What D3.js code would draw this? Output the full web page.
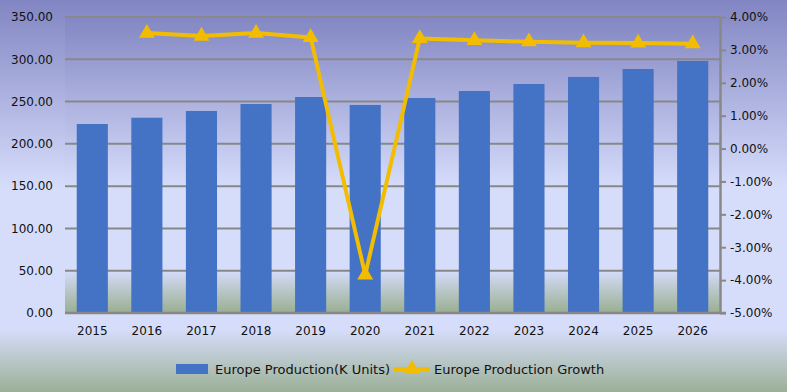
<!DOCTYPE html>
<html><head><meta charset="utf-8">
<script src="https://cdn.jsdelivr.net/npm/d3@7"></script>
<style>html,body{margin:0;padding:0;background:#fff;}svg{display:block;}</style>
</head><body>
<script>
const years = ["2015","2016","2017","2018","2019","2020","2021","2022","2023","2024","2025","2026"];
const production = [223.5, 230.9, 238.9, 247.1, 255.4, 246.0, 254.2, 262.5, 270.8, 279.1, 288.5, 298.0];
const growthYears = ["2016","2017","2018","2019","2020","2021","2022","2023","2024","2025","2026"];
const growth = [3.51, 3.42, 3.51, 3.38, -3.84, 3.35, 3.29, 3.25, 3.22, 3.21, 3.19];
const leftTicks = [0,50,100,150,200,250,300,350];
const rightTicks = [-5,-4,-3,-2,-1,0,1,2,3,4];
const seriesNames = ["Europe Production(K Units)", "Europe Production Growth"];

const W = 787, H = 392;
const m = {left: 65, right: 720, top: 17, bottom: 313};
const FONT = "'DejaVu Sans', Verdana, sans-serif";
const svg = d3.select("body").append("svg").attr("width", W).attr("height", H)
  .style("font-family", FONT);

const defs = svg.append("defs");
const bg = defs.append("linearGradient").attr("id","bg").attr("x1",0).attr("y1",0).attr("x2",0).attr("y2",1);
[[0,"#8185c2"],[0.48,"#d6ddfb"],[0.84,"#d6ddfb"],[1,"#9bb096"]].forEach(s=>bg.append("stop").attr("offset",s[0]).attr("stop-color",s[1]));
const pg = defs.append("linearGradient").attr("id","pg").attr("x1",0).attr("y1",0).attr("x2",0).attr("y2",1);
[[0,"#8387c3"],[0.58,"#d6ddfb"],[0.855,"#d6ddfb"],[1,"#99ae90"]].forEach(s=>pg.append("stop").attr("offset",s[0]).attr("stop-color",s[1]));

svg.append("rect").attr("width",W).attr("height",H).attr("fill","url(#bg)");
svg.append("rect").attr("x",m.left).attr("y",m.top).attr("width",m.right-m.left).attr("height",m.bottom-m.top).attr("fill","url(#pg)");

const x = d3.scaleBand().domain(years).range([m.left, m.right]).paddingInner(0.43).paddingOuter(0.215);
const y = d3.scaleLinear().domain([0,350]).range([m.bottom, m.top]);
const y2 = d3.scaleLinear().domain([-5,4]).range([m.bottom, m.top]);
const xc = d => x(d) + x.bandwidth()/2;

// gridlines
svg.append("g").selectAll("line").data(leftTicks.filter(t=>t>0)).join("line")
  .attr("x1", m.left).attr("x2", m.right).attr("y1", d=>y(d)).attr("y2", d=>y(d))
  .attr("stroke","#888888").attr("stroke-width",2);

// bars
svg.append("g").selectAll("rect").data(production).join("rect")
  .attr("x",(d,i)=>x(years[i])).attr("width",x.bandwidth())
  .attr("y",d=>y(d)).attr("height",d=>y(0)-y(d)).attr("fill","#4472c4");

// baseline
svg.append("line").attr("x1",m.left).attr("x2",m.right+6).attr("y1",m.bottom).attr("y2",m.bottom)
  .attr("stroke","#888888").attr("stroke-width",2.5);

// left axis labels
const la = svg.append("g").attr("transform",`translate(${m.left},0)`)
  .call(d3.axisLeft(y).tickValues(leftTicks).tickFormat(d=>d.toFixed(2)).tickSize(0).tickPadding(12));
la.select(".domain").remove();
la.selectAll("text").attr("font-size",12).attr("fill","#111").attr("font-family",FONT);

// right axis
const ra = svg.append("g").attr("transform",`translate(${m.right},0)`)
  .call(d3.axisRight(y2).tickValues(rightTicks).tickFormat(d=>d.toFixed(2)+"%").tickSize(6).tickPadding(4));
ra.select(".domain").attr("stroke","#888888").attr("stroke-width",2.5).attr("d",`M0.5,${m.top}V${m.bottom}`);
ra.selectAll(".tick line").attr("stroke","#888888").attr("stroke-width",2);
ra.selectAll("text").attr("font-size",12).attr("fill","#111").attr("font-family",FONT);

// x axis labels
const xa = svg.append("g").attr("transform",`translate(0,${m.bottom})`)
  .call(d3.axisBottom(x).tickSize(0).tickPadding(13));
xa.select(".domain").remove();
xa.selectAll("text").attr("font-size",12).attr("fill","#111").attr("font-family",FONT);

// growth line
const gold = "#f2bd00";
const line = d3.line().x((d,i)=>xc(growthYears[i])).y(d=>y2(d));
svg.append("path").datum(growth).attr("d",line).attr("fill","none").attr("stroke",gold).attr("stroke-width",4).attr("stroke-linejoin","round");
const tri = d3.symbol().type(d3.symbolTriangle).size(110);
svg.append("g").selectAll("path").data(growth).join("path")
  .attr("transform",(d,i)=>`translate(${xc(growthYears[i])},${y2(d)})`)
  .attr("d",tri).attr("fill",gold);

// legend
const lg = svg.append("g");
lg.append("rect").attr("x",176).attr("y",364).attr("width",32).attr("height",10).attr("fill","#4472c4");
lg.append("text").attr("x",215).attr("y",374).attr("font-size",13).attr("fill","#111").text(seriesNames[0]);
lg.append("line").attr("x1",394).attr("x2",430).attr("y1",369).attr("y2",369).attr("stroke",gold).attr("stroke-width",4);
lg.append("path").attr("transform","translate(412,369)").attr("d",tri).attr("fill",gold);
lg.append("text").attr("x",434).attr("y",374).attr("font-size",13).attr("fill","#111").text(seriesNames[1]);
</script>
</body></html>
